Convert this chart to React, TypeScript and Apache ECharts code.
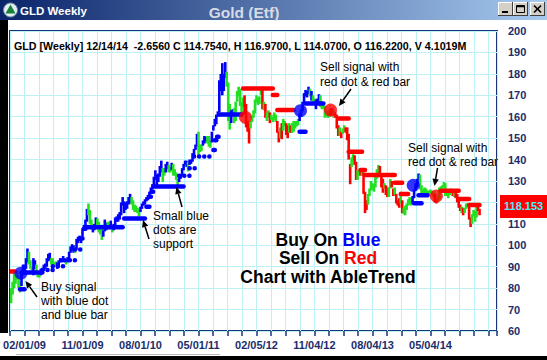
import React, { useEffect, useRef } from "react";
import * as echarts from "echarts";

// ---------- data ----------
// x = week index, week 0 = week of 02/01/09; first bar is the week of 11/30/08
const FIRST_WEEK = -9;
const TICK_STEP = 9.75; // weeks between x ticks
const LABEL_STEP = 39; // weeks between x labels
const xTickLabels = ["02/01/09", "11/01/09", "08/01/10", "05/01/11", "02/05/12", "11/04/12", "08/04/13", "05/04/14"];

const barLow = [
  73, 77, 80, 82, 84, 80, 78, 81, 86, 87,
  89, 92, 91, 89, 87, 86, 89, 86, 85, 85,
  86, 87, 88, 89, 90, 92.5, 93, 91, 91, 90,
  90, 89, 90, 92, 92, 93, 92, 91, 92, 93,
  96.5, 97.5, 96.5, 96.5, 98, 101, 102, 101, 104, 107,
  108.5, 111, 114, 110, 107.5, 106, 107, 108.5, 109, 106,
  105, 102.5, 104, 106.5, 107, 108, 107.5, 108, 106, 107,
  109, 111, 111, 112, 114, 118.5, 115, 116.5, 117, 119,
  119.5, 119, 116.5, 115.5, 115.5, 115, 113.5, 115.5, 117, 118.5,
  119, 120.5, 121, 122, 124, 126, 127.5, 130.5, 128, 129.5,
  132, 134, 129.5, 132.5, 134, 135.5, 134, 134, 135, 132.5,
  132.5, 130.5, 127, 129.5, 131, 132, 135, 137.5, 136.5, 134.5,
  137.5, 138, 139, 141.5, 144.5, 146, 141, 143.5, 144, 146.5,
  147.5, 148.5, 147.5, 146, 145.5, 148, 153.5, 155.5, 156.5, 160,
  162, 172, 170, 172, 178, 174, 158, 154, 157, 160.5,
  157, 158, 167, 169.5, 165, 160, 164.5, 161, 155, 153,
  147.5, 154.5, 157.5, 159.5, 161.5, 166.5, 165.5, 166, 170, 163.5,
  163, 159.5, 158, 159.5, 157, 158.5, 157.5, 158.5, 157.5, 152.5,
  148, 150, 149.5, 153.5, 155.5, 151.5, 150, 152.5, 152.5, 152.5,
  153, 154.5, 155.5, 156, 158, 160, 162.5, 166, 169.5, 169,
  170.5, 169.5, 167.5, 166.5, 165.5, 163.5, 166.5, 166.5, 164.5, 163.5,
  163.5, 159.5, 160, 159.5, 160, 160.5, 161, 159.5, 159.5, 154.5,
  151, 151, 150, 152, 153, 152.5, 149, 140, 128.5, 136.5,
  139.5, 137.5, 130.5, 130.5, 132.5, 132.5, 132.5, 124, 115, 116.5,
  119, 123, 125.5, 126, 125, 127, 131, 133.5, 133, 127,
  124.5, 126.5, 123.5, 122.5, 122.5, 126.5, 127, 123, 123.5, 119.5,
  118.5, 117.5, 119.5, 115, 114.5, 114, 116.5, 118.5, 119, 118.5,
  119.5, 122, 125.5, 127, 128, 126, 124, 123, 123.5, 124,
  123, 123.5, 124, 123.5, 122.5, 120, 119.5, 120.5, 121.5, 125.5,
  126, 127, 123, 123, 122, 123.5, 124.5, 123, 122.5, 122,
  120, 117.5, 116, 115, 114, 115, 117, 117.5, 112, 108.5,
  110, 113.5, 111, 113, 116, 114,
];

const barHigh = [
  80, 83, 87, 86, 88, 86, 83, 88, 91, 91,
  94, 98.5, 97, 93, 90, 94, 93, 91, 88, 87.5,
  89, 89.5, 91, 91.5, 94, 96, 96.5, 94, 94, 92,
  92.5, 92, 93, 94, 94, 95, 94, 93.5, 94.5, 97,
  99.5, 100.5, 100, 99, 103, 104, 104.5, 104, 108, 109.5,
  112, 117, 119.5, 116.5, 112, 109, 110, 113, 112.5, 111,
  108, 108.5, 107, 112, 110.5, 111, 110, 111.5, 109, 110,
  113, 113.5, 114.5, 115.5, 120, 122.5, 120.5, 120, 120.5, 122.5,
  124, 122.5, 121, 119, 118.5, 117.5, 116.5, 118, 119.5, 120.5,
  121.5, 122.5, 123.5, 125, 127, 128.5, 132, 135, 133, 133.5,
  137, 139.5, 136, 136, 138, 139, 137.5, 136.5, 138.5, 138,
  135.5, 134, 131, 133, 133, 136, 138, 139.5, 139.5, 139,
  140, 140, 143, 145, 147, 152, 153, 147, 147, 149,
  151, 150.5, 151, 151, 149, 153, 156, 159, 161, 162.5,
  177, 180, 185, 180, 185.5, 181, 176, 166, 163, 163.5,
  164, 167, 172, 174, 173, 167, 169, 170, 166, 158,
  157, 158, 160.5, 163, 168, 170, 169, 169.5, 173, 174,
  167, 166, 162, 163, 162, 161, 160, 162, 161, 158,
  153, 155, 157, 159, 158, 157, 156, 157, 156, 157,
  158, 158, 158, 159, 161.5, 163.5, 167, 171, 172.5, 172,
  174, 173, 172, 170, 168.5, 168, 168.5, 170.5, 170, 167,
  166, 165, 162, 163, 163, 164, 164, 163, 162, 161,
  156, 155, 153, 154.5, 156, 155, 155, 152, 138, 141,
  142.5, 142, 139, 135, 135.5, 135, 135.5, 134, 125, 121,
  124, 126.5, 130, 129, 128.5, 132.5, 135.5, 137.5, 137, 133.5,
  131, 129, 128, 127, 127, 131, 130, 126.5, 127, 124,
  121, 122, 125, 121, 117.5, 118.5, 119.5, 121.5, 122.5, 122,
  123, 126, 129, 131, 133.5, 133, 128, 126, 127, 126.5,
  125.5, 125.5, 126, 125.5, 125, 124, 121.5, 123, 127, 127.5,
  128, 129.5, 129, 126, 125, 126, 126.5, 126, 125, 124.5,
  124, 121, 119, 118, 117.5, 117.5, 119.5, 119.5, 118, 113,
  114.5, 116.5, 116, 118.5, 118, 117,
];

// B = blue (up trend), G = green (neutral), R = red (down trend)
const barTrend = [
  "GGGGGGGBBB", "BBGGGBBGGG", "BBBBBBBGGG", "GBBBBBGGBB", "BBBGBBBBBB",
  "BBGGGBBBGG", "GGBBBGGBGB", "BBBBBBBBBB", "BGGGGGGBBB", "BBBBBBBBBB",
  "BBGGBBGGBG", "GGGBBBBBBG", "BBBBBBGGGB", "BBGGGBBBBB", "BBBBBGGGBB",
  "GGGGGGGRRR", "RGGGGGGGGR", "GRGGRGGGGR", "RGRGGRRGRG", "GGGGBBBBBB",
  "BGBGGBBBGG", "GGGGGRRGRR", "RGRGGRRRRG", "GRRGGRGRRR", "GGGGGGGGRR",
  "RGRRGGRRGR", "RRGRGGGGGG", "BBBBBGGGGG", "GGGGGRRGGG", "GGGGGGGRGR",
  "RRRGRGGGRR", "GGGGRR",
].join("").split("");

// stop levels: [from week, to week, level, trend, 0 = solid bar / 1 = small dots]
const stopLevels: [number, number, number, string, number][] = [
  [-9, -6.5, 87.8, "R", 0],
  [-3, 0, 79.5, "B", 0],
  [-2, 12, 87.3, "B", 0],
  [12, 19, 88.5, "B", 1],
  [19, 27, 90.2, "B", 1],
  [27, 35, 93, "B", 1],
  [34, 39, 98, "B", 1],
  [38, 39, 103.2, "B", 0],
  [40, 41, 107.7, "B", 0],
  [41, 66, 108.4, "B", 0],
  [67, 81, 112.5, "B", 0],
  [82, 84, 118, "B", 0],
  [84, 85, 122.7, "B", 0],
  [85.5, 86.5, 125, "B", 0],
  [87, 107, 127.4, "B", 0],
  [104, 112, 132.4, "B", 1],
  [111, 115, 136, "B", 1],
  [114, 127, 141.4, "B", 1],
  [127, 128, 144.5, "B", 0],
  [128, 129, 149, "B", 0],
  [129.5, 130.5, 150.7, "B", 0],
  [131, 146, 161, "B", 0],
  [147, 167, 173.2, "R", 0],
  [167, 170, 170.1, "R", 0],
  [170, 181, 163.1, "R", 0],
  [185, 189, 153, "B", 0],
  [189, 201, 166.2, "B", 0],
  [211, 218, 159.2, "R", 0],
  [218, 227, 143.7, "R", 0],
  [226, 229, 135.1, "R", 0],
  [229, 249, 132.8, "R", 0],
  [249, 254, 129.2, "R", 0],
  [253, 258, 123.9, "R", 0],
  [262, 267, 119.6, "B", 0],
  [265, 271, 123.3, "B", 0],
  [280, 292, 125.5, "R", 0],
  [292, 299, 121.6, "R", 0],
  [299, 306, 118.8, "R", 0],
];

// big buy / sell signal dots: [week, price, trend]
const signalDots: [number, number, string][] = [
  [-2.4, 87, "B"],
  [148.6, 159.7, "R"],
  [185.6, 162.8, "B"],
  [205.8, 163.1, "R"],
  [261.4, 128, "B"],
  [277, 123, "R"],
];

const lastStop = 118.153;
const headerText =
  "GLD [Weekly] 12/14/14  -2.6560 C 114.7540, H 116.9700, L 114.0700, O 116.2200, V 4.1019M";

// ---------- styling ----------
const FONT = '"Liberation Sans", Arial, Helvetica, sans-serif';
const TREND_KEYS = ["B", "G", "R"];
const TREND_COLORS = ["#0000ff", "#22e022", "#ff0000"];
const NAVY = "#17357c";
const GRID_LINE = "#bdf1f4";

function arrow(x1: number, y1: number, x2: number, y2: number) {
  const ang = Math.atan2(y2 - y1, x2 - x1);
  const L = 7;
  const W = 3.2;
  const bx = x2 - L * Math.cos(ang);
  const by = y2 - L * Math.sin(ang);
  const px = -Math.sin(ang) * W;
  const py = Math.cos(ang) * W;
  return [
    { type: "line", z: 100, shape: { x1, y1, x2: bx, y2: by }, style: { stroke: "#000", lineWidth: 1.5 } },
    {
      type: "polygon",
      z: 100,
      shape: { points: [[x2, y2], [bx + px, by + py], [bx - px, by - py]] },
      style: { fill: "#000" },
    },
  ];
}

function txt(x: number, y: number, text: string, size: number, weight: string, fill: string, align = "left") {
  return {
    type: "text",
    z: 100,
    x,
    y,
    style: {
      text,
      fill,
      fontSize: size,
      fontWeight: weight,
      fontFamily: FONT,
      align,
      textAlign: align,
      verticalAlign: "middle",
      textVerticalAlign: "middle",
    },
  };
}

function richLine(y: number, a: string, b: string, bColor: string) {
  const base = { fontSize: 17.5, fontWeight: "bold", fontFamily: FONT };
  return {
    type: "text",
    z: 100,
    x: 328,
    y,
    style: {
      text: `{k|${a}}{c|${b}}`,
      align: "center",
      textAlign: "center",
      verticalAlign: "middle",
      textVerticalAlign: "middle",
      rich: {
        k: { ...base, fill: "#000", color: "#000" },
        c: { ...base, fill: bColor, color: bColor },
      },
    },
  };
}

function winButton(x: number, kind: string) {
  const y = 2;
  const w = 15;
  const h = 14;
  const els: any[] = [
    { type: "rect", z: 100, shape: { x, y, width: w, height: h }, style: { fill: "#d4d0c8" } },
    { type: "line", z: 101, shape: { x1: x, y1: y + 0.5, x2: x + w, y2: y + 0.5 }, style: { stroke: "#fff", lineWidth: 1 } },
    { type: "line", z: 101, shape: { x1: x + 0.5, y1: y, x2: x + 0.5, y2: y + h }, style: { stroke: "#fff", lineWidth: 1 } },
    { type: "line", z: 101, shape: { x1: x, y1: y + h - 0.5, x2: x + w, y2: y + h - 0.5 }, style: { stroke: "#404040", lineWidth: 1 } },
    { type: "line", z: 101, shape: { x1: x + w - 0.5, y1: y, x2: x + w - 0.5, y2: y + h }, style: { stroke: "#404040", lineWidth: 1 } },
  ];
  if (kind === "min") {
    els.push({ type: "rect", z: 102, shape: { x: x + 4, y: y + 9, width: 6, height: 2 }, style: { fill: "#000" } });
  } else if (kind === "max") {
    els.push({ type: "rect", z: 102, shape: { x: x + 3.5, y: y + 3.5, width: 8, height: 7 }, style: { fill: "none", stroke: "#000", lineWidth: 1 } });
    els.push({ type: "line", z: 102, shape: { x1: x + 3.5, y1: y + 4.5, x2: x + 11.5, y2: y + 4.5 }, style: { stroke: "#000", lineWidth: 1.5 } });
  } else {
    els.push({ type: "line", z: 102, shape: { x1: x + 4, y1: y + 3.5, x2: x + 11, y2: y + 10.5 }, style: { stroke: "#000", lineWidth: 1.7 } });
    els.push({ type: "line", z: 102, shape: { x1: x + 11, y1: y + 3.5, x2: x + 4, y2: y + 10.5 }, style: { stroke: "#000", lineWidth: 1.7 } });
  }
  return els;
}

export default function App() {
  const ref = useRef<HTMLDivElement>(null);

  useEffect(() => {
    document.body.style.margin = "0";
    if (!ref.current) return;
    const chart = echarts.init(ref.current, null, { renderer: "svg" });

    const barData = barLow.map((lo, i) => [i + FIRST_WEEK, lo, barHigh[i], TREND_KEYS.indexOf(barTrend[i])]);
    const stopData = stopLevels.map((s) => [s[0], s[1], s[2], TREND_KEYS.indexOf(s[3]), s[4]]);
    const dotData = signalDots.map((d) => ({
      value: [d[0], d[1]],
      itemStyle: { color: TREND_COLORS[TREND_KEYS.indexOf(d[2])] },
    }));

    const graphic: any[] = [
      // title bar
      {
        type: "rect",
        z: 99,
        shape: { x: 0, y: 0, width: 547, height: 20 },
        style: {
          fill: new echarts.graphic.LinearGradient(0, 0, 1, 0, [
            { offset: 0, color: "#0a246a" },
            { offset: 1, color: "#a6caf0" },
          ]),
        },
      },
      { type: "circle", z: 100, shape: { cx: 10.5, cy: 10, r: 7 }, style: { fill: "#e4ecef", stroke: "#6a82a0", lineWidth: 1 } },
      { type: "polygon", z: 101, shape: { points: [[10.5, 4.5], [15.5, 13.5], [5.5, 13.5]] }, style: { fill: "#15843a" } },
      txt(20, 11, "GLD Weekly", 11.5, "bold", "#ffffff"),
      txt(244, 12.5, "Gold (Etf)", 15.5, "bold", "#d6dbe6", "center"),
      ...winButton(498, "min"),
      ...winButton(513, "max"),
      ...winButton(530, "close"),
      // window frame
      { type: "rect", z: 99, shape: { x: 0, y: 20, width: 8, height: 313 }, style: { fill: "#000" } },
      { type: "rect", z: 99, shape: { x: 0, y: 356, width: 547, height: 4 }, style: { fill: "#000" } },
      { type: "line", z: 99, shape: { x1: 16, y1: 354.5, x2: 220, y2: 354.5 }, style: { stroke: "#b8b8b8", lineWidth: 1 } },
      // header
      txt(14, 45.5, headerText, 10.7, "bold", "#000"),
      // annotations
      txt(41, 287, "Buy signal", 12, "normal", "#000"),
      txt(41, 301, "with blue dot", 12, "normal", "#000"),
      txt(41, 314.5, "and blue bar", 12, "normal", "#000"),
      ...arrow(37, 297, 25.5, 281),
      txt(153, 216, "Small blue", 12, "normal", "#000"),
      txt(153, 230, "dots are", 12, "normal", "#000"),
      txt(153, 243.5, "support", 12, "normal", "#000"),
      ...arrow(182, 207, 176.5, 187),
      ...arrow(149, 239, 143, 220),
      txt(320, 67, "Sell signal with", 12, "normal", "#000"),
      txt(320, 81.5, "red dot & red bar", 12, "normal", "#000"),
      ...arrow(351, 89, 339, 106),
      txt(408, 147.5, "Sell signal with", 12, "normal", "#000"),
      txt(408, 162, "red dot & red bar", 12, "normal", "#000"),
      ...arrow(437.5, 168, 434.5, 186),
      // legend text
      richLine(239.5, "Buy On ", "Blue", "#0000ff"),
      richLine(258, "Sell On ", "Red", "#ff0000"),
      richLine(277, "Chart with AbleTrend", "", "#000"),
    ];

    const option: any = {
      animation: false,
      backgroundColor: "#ffffff",
      grid: {
        left: 10,
        top: 31,
        width: 487,
        height: 300,
        show: true,
        borderColor: NAVY,
        borderWidth: 2,
        backgroundColor: "transparent",
      },
      xAxis: {
        type: "value",
        min: -TICK_STEP,
        max: 317.75,
        interval: TICK_STEP,
        axisLine: { show: false },
        axisTick: { show: true, length: 5, lineStyle: { color: NAVY, width: 1.5 } },
        splitLine: { show: true, lineStyle: { color: GRID_LINE, width: 1 } },
        axisLabel: {
          color: "#1b2d6b",
          fontWeight: "bold",
          fontSize: 11,
          fontFamily: FONT,
          margin: 8,
          formatter: (v: number) => {
            const k = Math.round(v / LABEL_STEP);
            if (Math.abs(v - k * LABEL_STEP) < 0.01 && k >= 0 && k < xTickLabels.length) return xTickLabels[k];
            return "";
          },
        },
      },
      yAxis: {
        type: "value",
        position: "right",
        min: 60,
        max: 200,
        interval: 10,
        axisLine: { show: false },
        axisTick: { show: false },
        splitLine: { show: true, lineStyle: { color: GRID_LINE, width: 1 } },
        axisLabel: {
          color: "#1b2d6b",
          fontWeight: "bold",
          fontSize: 11,
          fontFamily: FONT,
          margin: 11,
          // the tick hidden behind the last-stop price box is not drawn
          formatter: (v: number) => (Math.abs(v - lastStop) < 5 ? "" : String(v)),
        },
      },
      series: [
        {
          type: "custom",
          z: 2,
          clip: true,
          data: barData,
          encode: { x: 0, y: [1, 2] },
          renderItem: (_p: any, api: any) => {
            const top = api.coord([api.value(0), api.value(2)]);
            const bot = api.coord([api.value(0), api.value(1)]);
            return {
              type: "rect",
              shape: { x: top[0] - 1.3, y: top[1], width: 2.6, height: Math.max(bot[1] - top[1], 1.5) },
              style: { fill: TREND_COLORS[api.value(3)] },
            };
          },
        },
        {
          type: "custom",
          z: 3,
          clip: true,
          data: stopData,
          encode: { x: [0, 1], y: 2 },
          renderItem: (_p: any, api: any) => {
            const a = api.coord([api.value(0), api.value(2)]);
            const b = api.coord([api.value(1), api.value(2)]);
            const dotted = api.value(4) === 1;
            return {
              type: "line",
              shape: { x1: a[0], y1: a[1], x2: b[0], y2: b[1] },
              style: {
                stroke: TREND_COLORS[api.value(3)],
                lineWidth: 4.5,
                lineCap: "round",
                lineDash: dotted ? [0.1, 5] : null,
              },
            };
          },
        },
        {
          type: "scatter",
          z: 4,
          symbol: "circle",
          symbolSize: 13,
          data: dotData,
          markLine: {
            silent: true,
            symbol: ["none", "none"],
            lineStyle: { color: "rgba(0,0,0,0)", width: 0, opacity: 1 },
            label: {
              show: true,
              opacity: 1,
              position: "end",
              distance: 3,
              formatter: () => lastStop.toFixed(3),
              backgroundColor: "#ff0000",
              color: "#3ff0ff",
              fontWeight: "bold",
              fontSize: 11,
              fontFamily: FONT,
              padding: [6, 4, 6, 4],
            },
            data: [{ yAxis: lastStop }],
          },
        },
      ],
      graphic,
    };

    chart.setOption(option);
    return () => chart.dispose();
  }, []);

  return <div ref={ref} style={{ width: 547, height: 360 }} />;
}
